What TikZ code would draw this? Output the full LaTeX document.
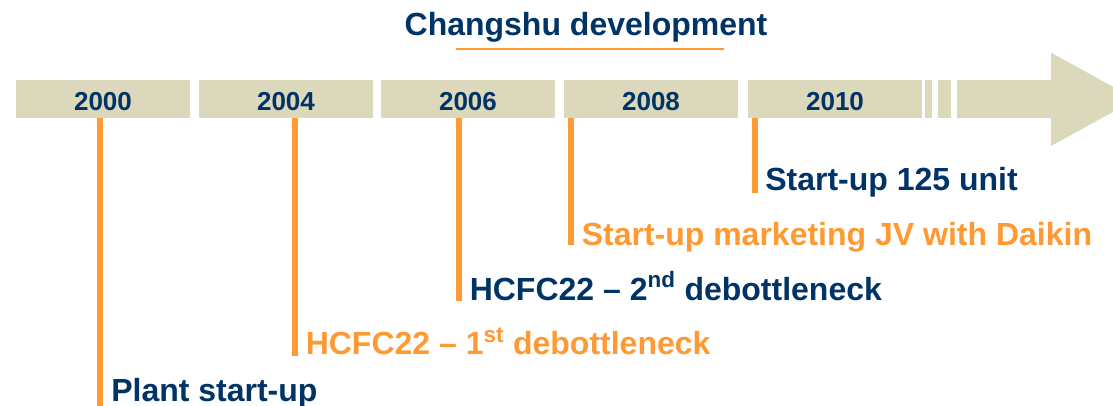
\documentclass[tikz,border=0pt]{standalone}
\usepackage{fontspec}
\setmainfont{Liberation Sans}
\definecolor{navy}{RGB}{0,51,102}
\definecolor{orng}{RGB}{255,153,51}
\definecolor{beige}{RGB}{220,216,187}
\begin{document}
\begin{tikzpicture}[x=0.75pt,y=-0.75pt,
  yearbox/.style={fill=beige,draw=none,inner sep=0pt,minimum width=130.5pt,minimum height=28.3pt},
  yeartext/.style={anchor=base,inner sep=0pt,text=navy,font=\fontsize{19.5}{22}\selectfont\bfseries},
  evnavy/.style={anchor=base west,inner sep=0pt,text=navy,font=\fontsize{24}{28}\selectfont\bfseries},
  evorange/.style={anchor=base west,inner sep=0pt,text=orng,font=\fontsize{24}{28}\selectfont\bfseries},
  tick/.style={draw=orng,line width=4.5pt},
  titletext/.style={anchor=base,inner sep=0pt,text=navy,font=\fontsize{24}{28}\selectfont\bfseries}]
\useasboundingbox (0,0) rectangle (1113,405);
\clip (0,0) rectangle (1113,405);
% title
\node[titletext] (title) at (586,35) {Changshu development};
\draw[orng,line width=1.5pt] (456,49) -- (724,49);
% year boxes
\node[yearbox] (b2000) at (103,98.85) {};
\node[yearbox] (b2004) at (286,98.85) {};
\node[yearbox] (b2006) at (468,98.85) {};
\node[yearbox] (b2008) at (651,98.85) {};
\node[yearbox] (b2010) at (835,98.85) {};
\node[yeartext] (t2000) at (103,110) {2000};
\node[yeartext] (t2004) at (286,110) {2004};
\node[yeartext] (t2006) at (468,110) {2006};
\node[yeartext] (t2008) at (651,110) {2008};
\node[yeartext] (t2010) at (835,110) {2010};
% break pieces and arrow
\fill[beige] (925,80) rectangle (932,117.7);
\fill[beige] (938,80) rectangle (951,117.7);
\fill[beige] (957,80) -- (1051,80) -- (1051,52.7) -- (1136,99.3) -- (1051,146) -- (1051,118) -- (957,118) -- cycle;
% events
\node[evnavy] (e1) at (111,401.7) {Plant start-up};
\node[evorange] (e2) at (305.5,354.3) {HCFC22 – 1\textsuperscript{st} debottleneck};
\node[evnavy] (e3) at (469.5,300) {HCFC22 – 2\textsuperscript{nd} debottleneck};
\node[evorange] (e4) at (581.5,245) {Start-up marketing JV with Daikin};
\node[evnavy] (e5) at (765,190) {Start-up 125 unit};
% tick coordinates
\coordinate (c1) at (100.3,406);
\coordinate (c2) at (295,356);
\coordinate (c3) at (459,300.7);
\coordinate (c4) at (570.5,245);
\coordinate (c5) at (755,192.5);
\draw[tick] (b2000.south -| c1) -- (c1);
\draw[tick] (b2004.south -| c2) -- (c2);
\draw[tick] (b2006.south -| c3) -- (c3);
\draw[tick] (b2008.south -| c4) -- (c4);
\draw[tick] (b2010.south -| c5) -- (c5);
\end{tikzpicture}
\end{document}
